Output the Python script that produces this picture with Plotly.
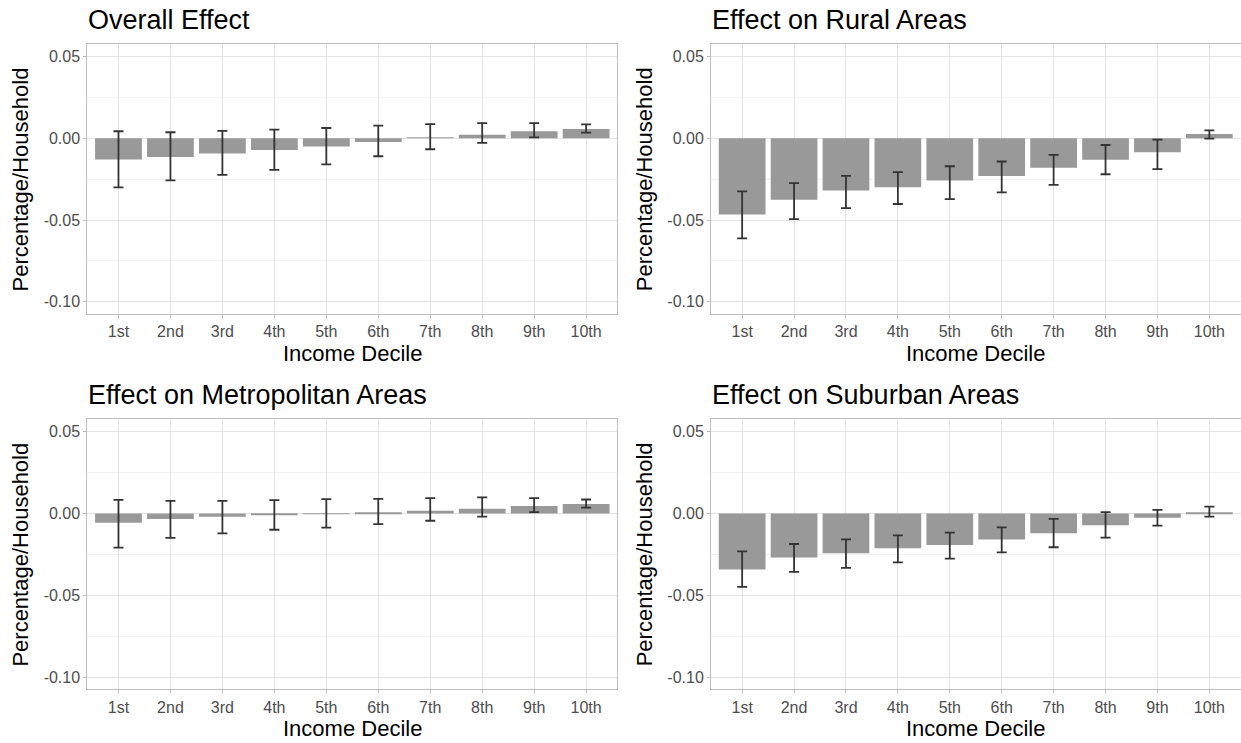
import plotly.graph_objects as go
from plotly.subplots import make_subplots

deciles = ["1st", "2nd", "3rd", "4th", "5th", "6th", "7th", "8th", "9th", "10th"]

# Overall effect
overall_val = [-0.0130, -0.0114, -0.0093, -0.0071, -0.0051, -0.0022, 0.0002, 0.0022, 0.0043, 0.0057]
overall_hi = [0.0043, 0.0037, 0.0045, 0.0053, 0.0063, 0.0077, 0.0087, 0.0093, 0.0093, 0.0085]
overall_lo = [-0.0300, -0.0258, -0.0224, -0.0193, -0.0159, -0.0110, -0.0067, -0.0028, 0.0006, 0.0035]

# Rural areas
rural_val = [-0.0467, -0.0376, -0.0319, -0.0299, -0.0258, -0.0230, -0.0181, -0.0132, -0.0085, 0.0026]
rural_hi = [-0.0325, -0.0274, -0.0230, -0.0207, -0.0171, -0.0142, -0.0102, -0.0041, -0.0008, 0.0049]
rural_lo = [-0.0612, -0.0494, -0.0427, -0.0402, -0.0372, -0.0331, -0.0285, -0.0220, -0.0189, -0.0002]

# Metropolitan areas
metro_val = [-0.0057, -0.0035, -0.0020, -0.0008, -0.0004, 0.0004, 0.0016, 0.0028, 0.0045, 0.0057]
metro_hi = [0.0083, 0.0077, 0.0077, 0.0081, 0.0087, 0.0089, 0.0093, 0.0098, 0.0093, 0.0085]
metro_lo = [-0.0209, -0.0150, -0.0122, -0.0100, -0.0087, -0.0065, -0.0045, -0.0020, 0.0008, 0.0035]

# Suburban areas
suburb_val = [-0.0343, -0.0270, -0.0244, -0.0213, -0.0193, -0.0159, -0.0122, -0.0073, -0.0026, 0.0006]
suburb_hi = [-0.0232, -0.0187, -0.0159, -0.0134, -0.0118, -0.0085, -0.0033, 0.0008, 0.0022, 0.0041]
suburb_lo = [-0.0449, -0.0358, -0.0333, -0.0299, -0.0276, -0.0238, -0.0207, -0.0148, -0.0075, -0.0020]

titles = ["Overall Effect", "Effect on Rural Areas", "Effect on Metropolitan Areas", "Effect on Suburban Areas"]
y_tickvals = [-0.10, -0.05, 0.00, 0.05]
y_ticktext = ["-0.10", "-0.05", "0.00", "0.05"]
y_minor = [-0.075, -0.025, 0.025]
x_title = "Income Decile"
y_title = "Percentage/Household"

panels = [
    (overall_val, overall_hi, overall_lo),
    (rural_val, rural_hi, rural_lo),
    (metro_val, metro_hi, metro_lo),
    (suburb_val, suburb_hi, suburb_lo),
]

W, H = 1241, 743
fig = make_subplots(rows=2, cols=2)

xdomains = [(87.3 / W, 617.3 / W), (711.0 / W, 1240.5 / W)]
ydomains = [(1 - 314.0 / H, 1 - 44.3 / H), (1 - 689.3 / H, 1 - 419.3 / H)]

FONT = "Liberation Sans, Arial, Helvetica, sans-serif"

annotations = []
for i, (val, hi, lo) in enumerate(panels):
    r, c = i // 2 + 1, i % 2 + 1
    plus = [h - v for h, v in zip(hi, val)]
    minus = [v - l for v, l in zip(val, lo)]
    fig.add_trace(
        go.Bar(
            x=deciles, y=val,
            marker=dict(color="#999999", line=dict(width=0)),
            error_y=dict(type="data", symmetric=False, array=plus, arrayminus=minus,
                         color="#333333", thickness=1.8, width=5),
            showlegend=False,
        ),
        row=r, col=c,
    )
    xd = xdomains[c - 1]
    yd = ydomains[r - 1]
    fig.update_xaxes(
        domain=list(xd), type="category", categoryorder="array", categoryarray=deciles,
        range=[-0.6, 9.6], showgrid=True, gridcolor="#E3E3E3", gridwidth=1,
        showline=True, linecolor="#BDBDBD", linewidth=1, mirror=True,
        ticks="outside", ticklen=3, tickcolor="#BDBDBD",
        tickfont=dict(family=FONT, size=16, color="#4D4D4D"),
        zeroline=False, row=r, col=c,
    )
    fig.update_yaxes(
        domain=list(yd), range=[-0.1075, 0.0575],
        tickmode="array", tickvals=y_tickvals, ticktext=y_ticktext,
        showgrid=True, gridcolor="#E3E3E3", gridwidth=1,
        minor=dict(tickmode="array", tickvals=y_minor, showgrid=True, gridcolor="#F2F2F2", gridwidth=1, ticks=""),
        showline=True, linecolor="#BDBDBD", linewidth=1, mirror=True,
        ticks="outside", ticklen=3, tickcolor="#BDBDBD",
        tickfont=dict(family=FONT, size=16, color="#4D4D4D"),
        zeroline=False, row=r, col=c,
    )
    top_px = 44.3 if r == 1 else 419.3
    bot_px = 314.0 if r == 1 else 689.3
    left_px = 87.3 if c == 1 else 711.0
    right_px = 617.3 if c == 1 else 1240.5
    # panel title
    annotations.append(dict(
        text=titles[i], xref="paper", yref="paper",
        x=(left_px - 1) / W, y=1 - (top_px - 24.5) / H, xanchor="left", yanchor="middle",
        showarrow=False, font=dict(family=FONT, size=27, color="#000000"),
    ))
    # x title
    annotations.append(dict(
        text=x_title, xref="paper", yref="paper",
        x=(left_px + right_px) / 2 / W, y=1 - (bot_px + 39) / H, xanchor="center", yanchor="middle",
        showarrow=False, font=dict(family=FONT, size=22, color="#000000"),
    ))
    # y title
    annotations.append(dict(
        text=y_title, xref="paper", yref="paper", textangle=-90,
        x=(left_px - 67) / W, y=1 - (top_px + bot_px) / 2 / H, xanchor="center", yanchor="middle",
        showarrow=False, font=dict(family=FONT, size=22, color="#000000"),
    ))

fig.update_layout(
    width=W, height=H, margin=dict(l=0, r=0, t=0, b=0),
    paper_bgcolor="white", plot_bgcolor="white",
    bargap=0.1, annotations=annotations,
    font=dict(family=FONT),
)

fig.write_html("out.html")
